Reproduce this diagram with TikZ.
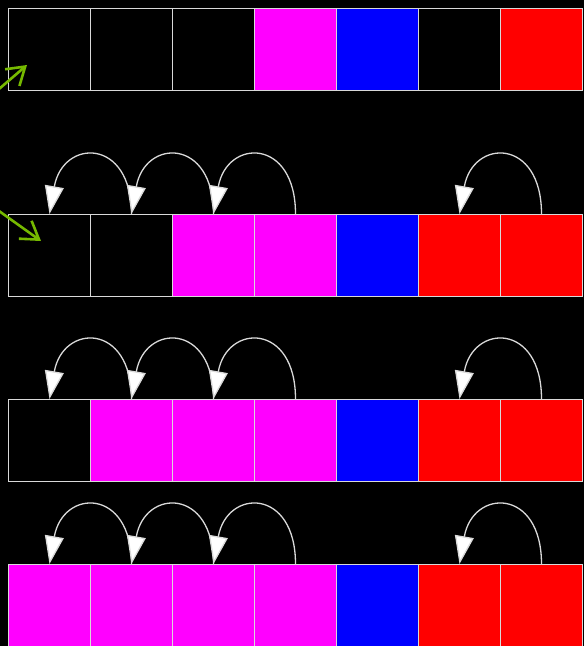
\documentclass[tikz,border=0pt]{standalone}
\usetikzlibrary{arrows.meta}
\definecolor{ptrgreen}{RGB}{118,185,0}
\definecolor{slotmag}{RGB}{255,0,255}
\definecolor{slotblue}{RGB}{0,0,255}
\definecolor{slotred}{RGB}{255,0,0}
\tikzset{
  cell/.style={draw=white!85!black, line width=1pt, minimum size=82pt, inner sep=0pt, anchor=north west},
  hop/.style={white!85!black, line width=1.3pt, -{Triangle[length=28pt,width=19pt,fill=white]}},
  pointer/.style={ptrgreen, line width=2.6pt, -{Straight Barb[length=17pt,width=22pt]}}
}
\begin{document}
\begin{tikzpicture}[x=1pt,y=-1pt]
  \fill[black] (0,0) rectangle (584,646);
  \useasboundingbox (0,0) rectangle (584,646);
  \clip (0,0) rectangle (584,646);
  \foreach \row/\top/\cols in {1/8/{black,black,black,slotmag,slotblue,black,slotred},
                                2/214/{black,black,slotmag,slotmag,slotblue,slotred,slotred},
                                3/399/{black,slotmag,slotmag,slotmag,slotblue,slotred,slotred},
                                4/564/{slotmag,slotmag,slotmag,slotmag,slotblue,slotred,slotred}}
    \foreach \c [count=\k] in \cols
      \node[cell, fill=\c] (r\row-\k) at ({8+82*(\k-1)},\top) {};
  \foreach \row in {2,3,4} {
    \draw[hop] (r\row-2.north) to[out=90,in=80,looseness=2.4] (r\row-1.north);
    \draw[hop] (r\row-3.north) to[out=90,in=80,looseness=2.4] (r\row-2.north);
    \draw[hop] (r\row-4.north) to[out=90,in=80,looseness=2.4] (r\row-3.north);
    \draw[hop] (r\row-7.north) to[out=90,in=80,looseness=2.4] (r\row-6.north);
  }
  \coordinate (from1) at (-1,89);
  \coordinate (to1) at (27,65);
  \coordinate (from2) at (-1,211);
  \coordinate (to2) at (41,241);
  \draw[pointer] (from1) -- (to1);
  \draw[pointer] (from2) -- (to2);
\end{tikzpicture}
\end{document}
